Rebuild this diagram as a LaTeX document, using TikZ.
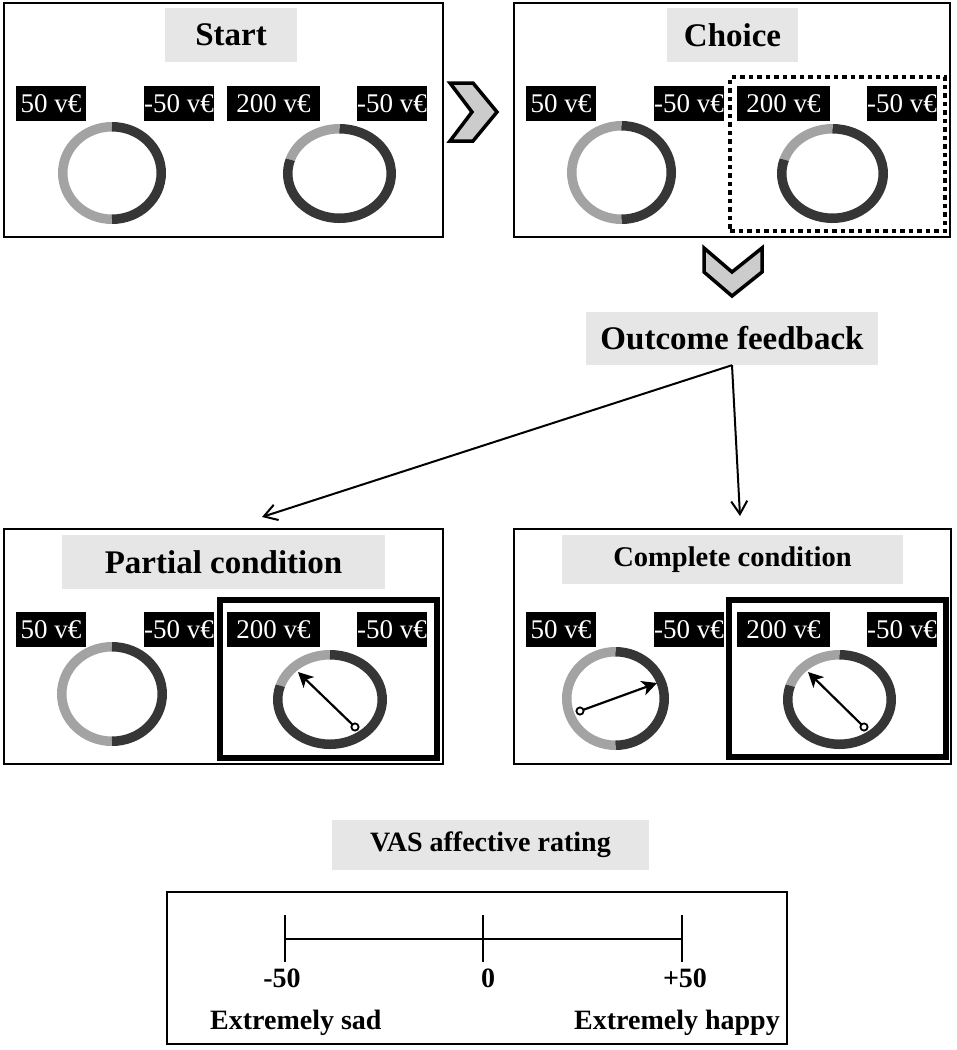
\documentclass[tikz,border=0pt]{standalone}
\usepackage{fontspec}
\setmainfont{Liberation Serif}
\usetikzlibrary{arrows.meta}
\definecolor{boxgray}{HTML}{E6E6E6}
\definecolor{ringdark}{HTML}{363636}
\definecolor{ringlight}{HTML}{A3A3A3}
\definecolor{chevfill}{HTML}{CCCCCC}
\tikzset{
  panel/.style={draw=black, line width=2.5pt, inner sep=0pt},
  titlebox/.style={fill=boxgray, inner sep=0pt, font=\bfseries\fontsize{33}{36}\selectfont},
  money/.style={fill=black, text=white, inner sep=0pt, minimum height=35pt, font=\fontsize{27}{30}\selectfont},
  chosen/.style={draw=black, line width=5.5pt, inner sep=0pt},
  dotbox/.style={draw=black, line width=4.5pt, dash pattern=on 4.5pt off 4pt, inner sep=0pt},
  chevron/.style={fill=chevfill, draw=black, line width=3.5pt, line join=miter},
  ring/.style={line width=9.5pt},
  needle/.style={line width=2.2pt, -{Stealth[length=15pt,width=15pt,inset=4pt]}},
  flow/.style={line width=2pt, -{Straight Barb[length=13pt,width=16pt]}},
  vas/.style={line width=2.2pt},
  vaslabel/.style={font=\bfseries\fontsize{28}{30}\selectfont, inner sep=0pt},
}
% half/half wheel: cx, cy, mid x radius, mid y radius
\newcommand{\halfwheel}[4]{%
  \draw[ring,ringlight] (#1,#2) ++(-90:#3 and #4) arc[start angle=-90,end angle=-270,x radius=#3,y radius=#4];
  \draw[ring,ringdark] (#1,#2) ++(90:#3 and #4) arc[start angle=90,end angle=-90,x radius=#3,y radius=#4];
}
% 20/80 wheel
\newcommand{\fifthwheel}[4]{%
  \draw[ring,ringlight] (#1,#2) ++(-90:#3 and #4) arc[start angle=-90,end angle=-162,x radius=#3,y radius=#4];
  \draw[ring,ringdark] (#1,#2) ++(-162:#3 and #4) arc[start angle=-162,end angle=-450,x radius=#3,y radius=#4];
}
% money label: name, x-left, x-right, y-top, text
\newcommand{\moneylab}[5]{%
  \node[money, minimum width={((#3)-(#2))*1pt}] (#1) at ({((#2)+(#3))/2},{(#4)+17.5}) {#5};
}
\newcommand{\labelrow}[3]{% prefix, x offset, y offset
  \moneylab{#1a}{16+#2}{86+#2}{86+#3}{50 v€}
  \moneylab{#1b}{144+#2}{214+#2}{86+#3}{-50 v€}
  \moneylab{#1c}{227+#2}{320+#2}{86+#3}{200 v€}
  \moneylab{#1d}{357+#2}{427+#2}{86+#3}{-50 v€}
}
\begin{document}
\begin{tikzpicture}[x=1pt,y=-1pt]
\useasboundingbox (0,0) rectangle (957,1050);
\fill[white] (0,0) rectangle (957,1050);

% ---------- panels ----------
\node[panel, minimum width=439pt, minimum height=234pt] (startp) at (223.5,120) {};
\node[panel, minimum width=436pt, minimum height=234pt] (choicep) at (732,120) {};
\node[panel, minimum width=439pt, minimum height=235pt] (partialp) at (223.5,646.5) {};
\node[panel, minimum width=437pt, minimum height=235pt] (completep) at (732.5,646.5) {};
\node[panel, minimum width=620pt, minimum height=152pt] (vasp) at (477,968) {};

% ---------- titles ----------
\node[titlebox, minimum width=132pt, minimum height=54pt] (startt) at (231,35) {Start};
\node[titlebox, minimum width=131pt, minimum height=54pt] (choicet) at (732.5,35) {Choice};
\node[titlebox, minimum width=292pt, minimum height=53pt] (outcome) at (732,338.5) {Outcome feedback};
\node[titlebox, minimum width=323pt, minimum height=54pt] (partialt) at (223.5,562) {Partial condition};
\node[titlebox, minimum width=341pt, minimum height=49pt, font=\bfseries\fontsize{28.5}{31}\selectfont] (completet) at (732.5,559.5) {Complete condition};
\node[titlebox, minimum width=317pt, minimum height=50pt, font=\bfseries\fontsize{28}{31}\selectfont] (vast) at (490.5,845) {VAS affective rating};

% ---------- money labels ----------
\labelrow{s}{0}{0}
\labelrow{c}{510}{0}
\labelrow{p}{0}{526}
\labelrow{k}{510}{526}

% ---------- chosen option frames ----------
\node[dotbox, minimum width=215pt, minimum height=154pt] (choicesel) at (837.5,154) {};
\node[chosen, minimum width=217pt, minimum height=158pt] (partialsel) at (328.5,679) {};
\node[chosen, minimum width=217pt, minimum height=157pt] (completesel) at (837.5,678.5) {};

% ---------- wheels ----------
\halfwheel{112}{173}{49.25}{46.25}
\fifthwheel{339.5}{173.5}{51.75}{44.75}
\halfwheel{621.5}{172.5}{49.75}{46.75}
\fifthwheel{832.5}{173.5}{50.75}{44.75}
\halfwheel{112}{694}{50.25}{47.25}
\fifthwheel{330}{699.5}{52.25}{44.75}
\halfwheel{615.5}{698.5}{48.75}{46.75}
\fifthwheel{839.5}{699.5}{51.75}{44.75}

% ---------- needles ----------
\coordinate (pnb) at (355,727); \coordinate (pnt) at (298,672);
\coordinate (knb1) at (580,711); \coordinate (knt1) at (657,683);
\coordinate (knb2) at (864,727); \coordinate (knt2) at (808,672);
\draw[needle] (pnb) -- (pnt);
\draw[needle] (knb1) -- (knt1);
\draw[needle] (knb2) -- (knt2);
\foreach \c in {pnb,knb1,knb2} \draw[fill=white, line width=1.8pt] (\c) circle[radius=3.6];

% ---------- chevrons ----------
\draw[chevron] (450,83) -- (473,83) -- (497,112) -- (473,141) -- (450,141) -- (472,112) -- cycle;
\draw[chevron] (704,248) -- (732,272) -- (762,248) -- (762,272) -- (732,296) -- (704,272) -- cycle;

% ---------- flow arrows ----------
\coordinate (ptip) at (262,517);
\coordinate (ktip) at (740,516);
\draw[flow] (outcome.south) -- (ptip);
\draw[flow] (outcome.south) -- (ktip);

% ---------- VAS ----------
\coordinate (vl) at (285,939);
\coordinate (vm) at (483,939);
\coordinate (vr) at (682,939);
\draw[vas] (vl) -- (vr);
\foreach \c in {vl,vm,vr} \draw[vas] (\c) ++(0,-24) -- ++(0,47);
\node[vaslabel, anchor=base] (vneg) at (282,987) {-50};
\node[vaslabel, anchor=base] (vzero) at (488,987) {0};
\node[vaslabel, anchor=base] (vpos) at (685,987) {+50};
\node[vaslabel, anchor=base west] (vsad) at (210,1029) {Extremely sad};
\node[vaslabel, anchor=base east] (vhappy) at (780,1029) {Extremely happy};
\end{tikzpicture}
\end{document}
